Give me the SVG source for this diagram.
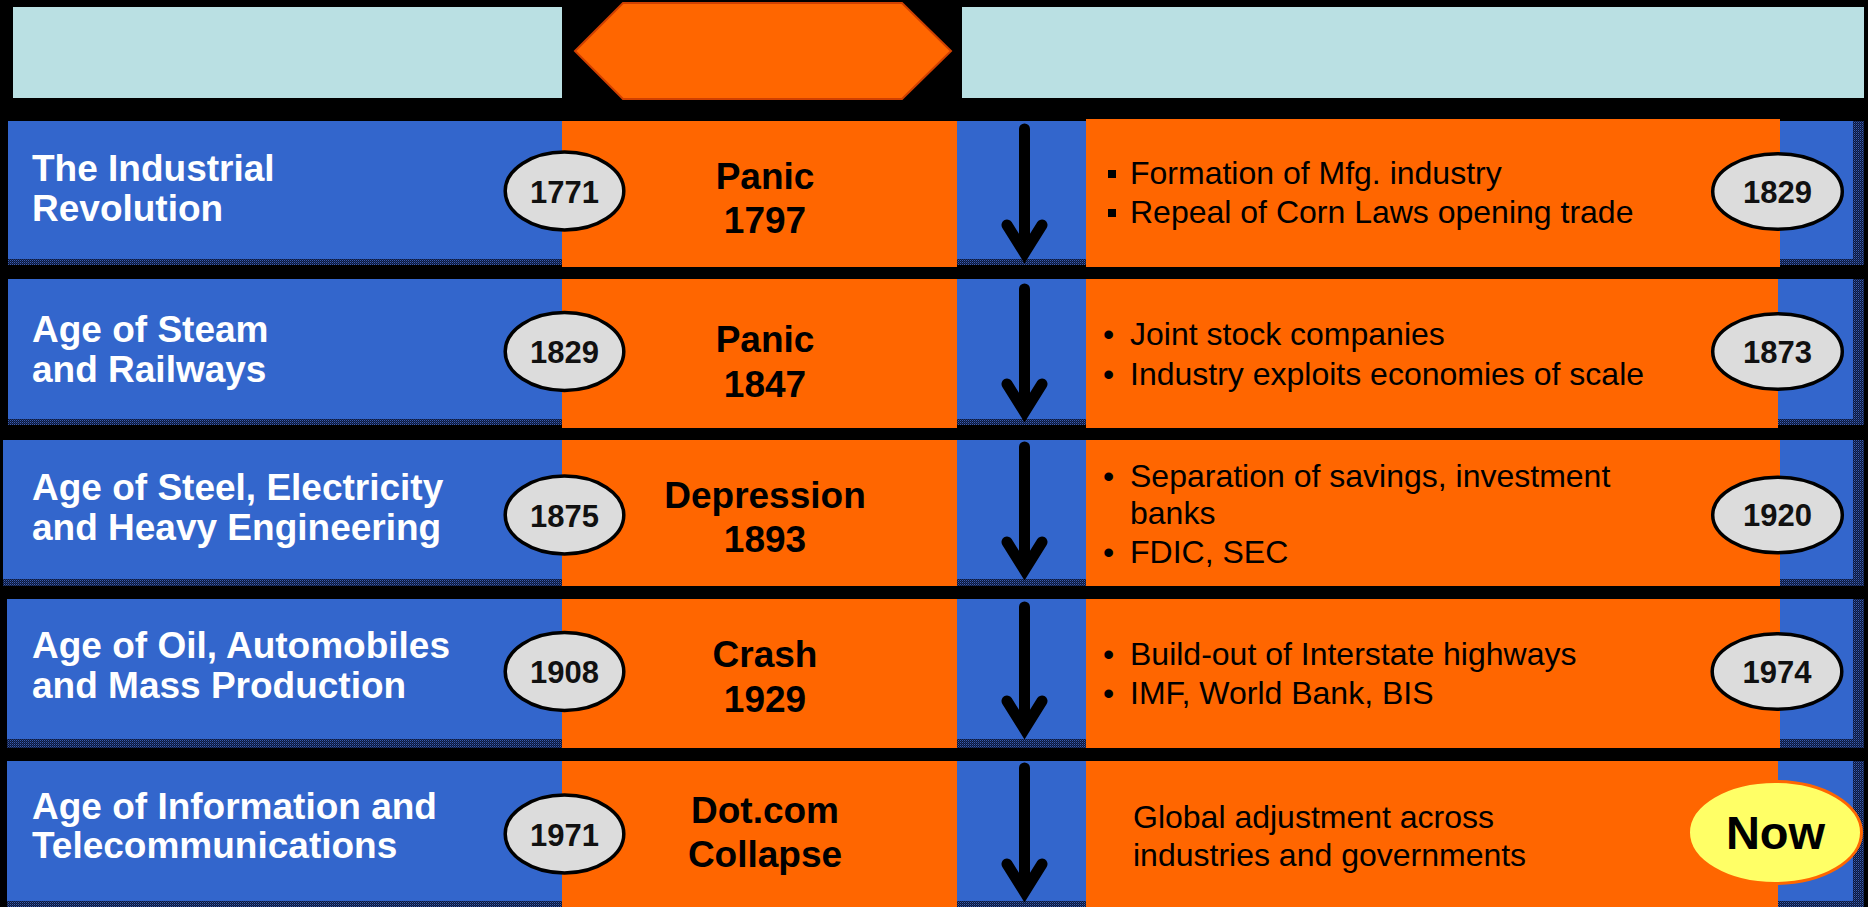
<svg xmlns="http://www.w3.org/2000/svg" width="1868" height="907" viewBox="0 0 1868 907">
  <defs>
    <!-- dithered navy used for the shadow bands of the blue rows -->
    <pattern id="dither" width="2" height="2" patternUnits="userSpaceOnUse">
      <rect width="2" height="2" fill="#0c1838"/>
      <rect width="1" height="1" fill="#3a5cb0"/>
      <rect x="1" y="1" width="1" height="1" fill="#1e3470"/>
    </pattern>
  </defs>
  <style>
    .hdr { fill: #bae0e3; }
    .blue { fill: #3366cc; }
    .shade { fill: url(#dither); }
    .orange { fill: #ff6600; }
    .era { font-family: "Liberation Sans", Arial, sans-serif; font-weight: bold; font-size: 37px; fill: #ffffff; }
    .event { font-family: "Liberation Sans", Arial, sans-serif; font-weight: bold; font-size: 37px; fill: #000000; text-anchor: middle; }
    .year-bg { fill: #dcdcdc; stroke: #000000; stroke-width: 3.5; }
    .year { font-family: "Liberation Sans", Arial, sans-serif; font-weight: bold; font-size: 31px; fill: #111111; text-anchor: middle; }
    .note { font-family: "Liberation Sans", Arial, sans-serif; font-size: 32px; fill: #000000; }
    .arrow { fill: none; stroke: #000000; stroke-width: 11; }
  </style>

  <rect width="1868" height="907" fill="#000000"/>

  <!-- header bar -->
  <g id="header">
    <rect class="hdr" x="13" y="7" width="549" height="91"/>
    <polygon points="575,51 623,3 902,3 951,51 902,99 623,99" fill="#ff6600" stroke="#d04000" stroke-width="2"/>
    <rect class="hdr" x="962" y="7" width="902" height="91"/>
  </g>

  <!-- row 1 -->
  <g id="row1">
    <rect class="blue" x="8" y="121" width="1856" height="144"/>
    <rect class="shade" x="8" y="259" width="1856" height="6"/>
    <rect class="shade" x="1853" y="121" width="11" height="144"/>
    <rect class="orange" x="562" y="121" width="395" height="146"/>
    <rect class="orange" x="1086" y="119" width="694" height="148"/>
    <text class="era" x="32" y="181">The Industrial</text>
    <text class="era" x="32" y="221">Revolution</text>
    <ellipse class="year-bg" cx="564.5" cy="191" rx="59.3" ry="39"/>
    <text class="year" x="564.5" y="202.5">1771</text>
    <text class="event" x="765" y="189">Panic</text>
    <text class="event" x="765" y="233">1797</text>
    <rect x="1108" y="170" width="8" height="8" fill="#000000"/>
    <text class="note" x="1130" y="184">Formation of Mfg. industry</text>
    <rect x="1108" y="209" width="8" height="8" fill="#000000"/>
    <text class="note" x="1130" y="223">Repeal of Corn Laws opening trade</text>
    <ellipse class="year-bg" cx="1777.5" cy="191.5" rx="64.8" ry="37.8"/>
    <text class="year" x="1777.5" y="202.5">1829</text>
  </g>

  <!-- row 2 -->
  <g id="row2">
    <rect class="blue" x="8" y="279" width="1856" height="146"/>
    <rect class="shade" x="8" y="419" width="1856" height="6"/>
    <rect class="shade" x="1853" y="279" width="11" height="146"/>
    <rect class="orange" x="562" y="279" width="395" height="149"/>
    <rect class="orange" x="1086" y="279" width="692" height="149"/>
    <text class="era" x="32" y="342">Age of Steam</text>
    <text class="era" x="32" y="382">and Railways</text>
    <ellipse class="year-bg" cx="564.5" cy="351.5" rx="59.3" ry="39"/>
    <text class="year" x="564.5" y="363">1829</text>
    <text class="event" x="765" y="352">Panic</text>
    <text class="event" x="765" y="397">1847</text>
    <text class="note" x="1103" y="345">•</text>
    <text class="note" x="1130" y="345">Joint stock companies</text>
    <text class="note" x="1103" y="385">•</text>
    <text class="note" x="1130" y="385">Industry exploits economies of scale</text>
    <ellipse class="year-bg" cx="1777.5" cy="351.5" rx="64.8" ry="37.8"/>
    <text class="year" x="1777.5" y="362.5">1873</text>
  </g>

  <!-- row 3 -->
  <g id="row3">
    <rect class="blue" x="3" y="440" width="1861" height="146"/>
    <rect class="shade" x="3" y="579" width="1861" height="7"/>
    <rect class="shade" x="1853" y="440" width="11" height="146"/>
    <rect class="orange" x="562" y="440" width="395" height="146"/>
    <rect class="orange" x="1086" y="440" width="694" height="146"/>
    <text class="era" x="32" y="500">Age of Steel, Electricity</text>
    <text class="era" x="32" y="540">and Heavy Engineering</text>
    <ellipse class="year-bg" cx="564.5" cy="515" rx="59.3" ry="39"/>
    <text class="year" x="564.5" y="526.5">1875</text>
    <text class="event" x="765" y="508">Depression</text>
    <text class="event" x="765" y="552">1893</text>
    <text class="note" x="1103" y="487">•</text>
    <text class="note" x="1130" y="487">Separation of savings, investment</text>
    <text class="note" x="1130" y="524">banks</text>
    <text class="note" x="1103" y="563">•</text>
    <text class="note" x="1130" y="563">FDIC, SEC</text>
    <ellipse class="year-bg" cx="1777.5" cy="515" rx="64.8" ry="37.8"/>
    <text class="year" x="1777.5" y="526">1920</text>
  </g>

  <!-- row 4 -->
  <g id="row4">
    <rect class="blue" x="7" y="599" width="1857" height="149"/>
    <rect class="shade" x="7" y="739" width="1857" height="9"/>
    <rect class="shade" x="1853" y="599" width="11" height="149"/>
    <rect class="orange" x="562" y="599" width="395" height="149"/>
    <rect class="orange" x="1086" y="599" width="694" height="149"/>
    <text class="era" x="32" y="658">Age of Oil, Automobiles</text>
    <text class="era" x="32" y="698">and Mass Production</text>
    <ellipse class="year-bg" cx="564.5" cy="671.5" rx="59.3" ry="39"/>
    <text class="year" x="564.5" y="683">1908</text>
    <text class="event" x="765" y="667">Crash</text>
    <text class="event" x="765" y="712">1929</text>
    <text class="note" x="1103" y="665">•</text>
    <text class="note" x="1130" y="665">Build-out of Interstate highways</text>
    <text class="note" x="1103" y="704">•</text>
    <text class="note" x="1130" y="704">IMF, World Bank, BIS</text>
    <ellipse class="year-bg" cx="1777" cy="671.5" rx="64.8" ry="37.8"/>
    <text class="year" x="1777" y="682.5">1974</text>
  </g>

  <!-- row 5 -->
  <g id="row5">
    <rect class="blue" x="7" y="761" width="1857" height="146"/>
    <rect class="shade" x="7" y="901" width="1857" height="6"/>
    <rect class="shade" x="1853" y="761" width="11" height="146"/>
    <rect class="orange" x="562" y="761" width="395" height="146"/>
    <rect class="orange" x="1086" y="761" width="692" height="146"/>
    <text class="era" x="32" y="819">Age of Information and</text>
    <text class="era" x="32" y="858">Telecommunications</text>
    <ellipse class="year-bg" cx="564.5" cy="834" rx="59.3" ry="39"/>
    <text class="year" x="564.5" y="845.5">1971</text>
    <text class="event" x="765" y="823">Dot.com</text>
    <text class="event" x="765" y="867">Collapse</text>
    <text class="note" x="1133" y="828">Global adjustment across</text>
    <text class="note" x="1133" y="866">industries and governments</text>
    <ellipse cx="1775" cy="832.5" rx="86.5" ry="51" fill="#ffff66" stroke="#ff6600" stroke-width="3"/>
    <text x="1775.5" y="849" font-family="Liberation Sans, Arial, sans-serif" font-weight="bold" font-size="47" fill="#000000" text-anchor="middle">Now</text>
  </g>

  <!-- downward arrows between the crisis and the adjustment -->
  <g id="connectors">
    <path class="arrow" d="M1024.5,129 V253 M1007,225 L1024.5,253 L1042,225" stroke-linecap="round"/>
    <path class="arrow" d="M1024.5,289 V412 M1007,384 L1024.5,412 L1042,384" stroke-linecap="round"/>
    <path class="arrow" d="M1024.5,447 V570 M1007,542 L1024.5,570 L1042,542" stroke-linecap="round"/>
    <path class="arrow" d="M1024.5,607 V729 M1007,701 L1024.5,729 L1042,701" stroke-linecap="round"/>
    <path class="arrow" d="M1024.5,768 V892 M1007,864 L1024.5,892 L1042,864" stroke-linecap="round"/>
  </g>
</svg>
